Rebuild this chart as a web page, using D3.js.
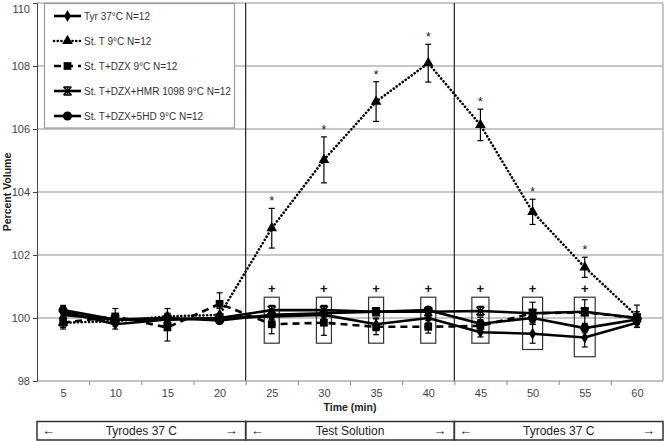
<!DOCTYPE html>
<html><head><meta charset="utf-8">
<script src="https://cdn.jsdelivr.net/npm/d3@7"></script>
<style>body{margin:0;background:#fff}svg{display:block;font-family:"Liberation Sans",Arial,sans-serif}</style>
</head><body><svg id="c" width="666" height="441"></svg>
<script>
const times = [5,10,15,20,25,30,35,40,45,50,55,60];
const seriesNames = ["Tyr  37°C  N=12","St. T  9°C  N=12","St. T+DZX  9°C  N=12","St. T+DZX+HMR 1098  9°C  N=12","St. T+DZX+5HD  9°C  N=12"];
const tyr     = [100.2,99.8,99.95,100.0,100.05,100.1,99.8,100.0,99.55,99.5,99.38,99.85];
const stT     = [99.85,99.9,100.05,100.1,102.85,105.02,106.87,108.09,106.13,103.37,101.61,100.06];
const dzx     = [99.85,100.05,99.7,100.45,99.8,99.85,99.72,99.72,99.75,100.15,100.18,100.0];
const hmr     = [100.1,99.95,99.95,100.0,100.25,100.25,100.2,100.2,100.22,100.15,100.2,100.0];
const hd5     = [100.25,99.95,100.0,99.92,100.1,100.15,100.2,100.25,99.82,100.0,99.68,99.95];
const tyrErr  = [0.15,0.15,0.15,0.1,0.15,0.2,0.2,0.15,0.15,0.3,0.3,0.15];
const stTErr  = [0.15,0.15,0.25,0.2,0.63,0.73,0.63,0.6,0.5,0.4,0.32,0.35];
const dzxErr  = [0.2,0.25,0.43,0.35,0.3,0.4,0.25,0.2,0.2,0.35,0.4,0.2];
const hmrErr  = [0.1,0.1,0.1,0.1,0.15,0.15,0.1,0.1,0.15,0.1,0.1,0.1];
const hd5Err  = [0.15,0.15,0.15,0.1,0.15,0.15,0.1,0.1,0.2,0.15,0.15,0.15];
const starTimes = [25,30,35,40,45,50,55];
const boxTimes  = [25,30,35,40,45,50,55];
const boxTop    = [100.66,100.66,100.66,100.66,100.66,100.66,100.66];
const boxBottom = [99.2,99.2,99.2,99.2,99.2,99.0,98.77];
const boxHalf   = [0.72,0.72,0.72,0.72,0.82,0.96,1.0];
const plusValue = 100.92;
const yTicks = [98,100,102,104,106,108,110];
const sections = [{label:"Tyrodes 37 C",start:2.5,end:22.5},{label:"Test Solution",start:22.5,end:42.5},{label:"Tyrodes 37 C",start:42.5,end:62.5}];

const svg = d3.select("#c");
const x = d3.scaleLinear().domain([2.5,62.5]).range([37,663]);
const y = d3.scaleLinear().domain([98,110]).range([381,3]);

// gridlines
svg.append("g").selectAll("line").data(yTicks.filter(v=>v>98)).join("line")
  .attr("x1",x(2.5)).attr("x2",x(62.5)).attr("y1",d=>y(d)).attr("y2",d=>y(d))
  .attr("stroke","#b4b4b4").attr("stroke-width",1.5);
svg.append("line").attr("x1",x(62.5)).attr("x2",x(62.5)).attr("y1",y(110)).attr("y2",y(98)).attr("stroke","#b4b4b4").attr("stroke-width",1.5);
// section dividers
svg.append("g").selectAll("line").data([22.5,42.5]).join("line")
  .attr("x1",d=>x(d)).attr("x2",d=>x(d)).attr("y1",y(110)).attr("y2",y(98))
  .attr("stroke","#222").attr("stroke-width",1.2);

// y axis
const ya = svg.append("g").attr("transform",`translate(${x(2.5)},0)`)
  .call(d3.axisLeft(y).tickValues(yTicks).tickSize(4).tickPadding(3).tickFormat(d3.format("d")));
ya.select(".domain").attr("stroke","#444");
ya.selectAll(".tick line").attr("stroke","#444");
ya.selectAll("text").attr("font-size",11).attr("fill","#444").attr("font-family","Liberation Sans, Arial");
ya.selectAll(".tick").filter(d=>d===110).select("text").attr("dy","0.9em");
// x axis
const xa = svg.append("g").attr("transform",`translate(0,${y(98)})`)
  .call(d3.axisBottom(x).tickValues(d3.range(7.5,62.5,5)).tickSize(4).tickFormat(""));
xa.select(".domain").attr("stroke","#888").attr("d",`M${x(2.5)},0H${x(62.5)}`);
xa.selectAll(".tick line").attr("stroke","#888");
const xl = svg.append("g").attr("transform",`translate(0,${y(98)})`)
  .call(d3.axisBottom(x).tickValues(times).tickSize(0).tickPadding(8).tickFormat(d3.format("d")));
xl.select(".domain").remove();
xl.selectAll("text").attr("font-size",11).attr("fill","#444").attr("font-family","Liberation Sans, Arial");

svg.append("text").attr("x",(x(2.5)+x(62.5))/2).attr("y",411).attr("text-anchor","middle")
  .attr("font-size",10.5).attr("font-weight","bold").attr("fill","#222").text("Time (min)");
svg.append("text").attr("transform",`translate(11,${(y(98)+y(110))/2}) rotate(-90)`).attr("text-anchor","middle")
  .attr("font-size",10.5).attr("font-weight","bold").attr("fill","#222").text("Percent Volume");

// sections row
const sg = svg.append("g").selectAll("g").data(sections).join("g");
sg.append("rect").attr("x",d=>x(d.start)).attr("y",421.5).attr("width",d=>x(d.end)-x(d.start)).attr("height",18.5)
  .attr("fill","none").attr("stroke","#333").attr("stroke-width",1.5);
sg.append("text").attr("x",d=>(x(d.start)+x(d.end))/2).attr("y",435).attr("text-anchor","middle").attr("font-size",12).attr("fill","#222").text(d=>d.label);
sg.append("text").attr("x",d=>x(d.start)+5).attr("y",435).attr("font-size",13).attr("fill","#222").text("←");
sg.append("text").attr("x",d=>x(d.end)-8).attr("y",435).attr("text-anchor","end").attr("font-size",13).attr("fill","#222").text("→");

// boxes and plus
svg.append("g").selectAll("rect").data(boxTimes).join("rect")
  .attr("x",(d,i)=>x(d-boxHalf[i])).attr("width",(d,i)=>x(d+boxHalf[i])-x(d-boxHalf[i]))
  .attr("y",(d,i)=>y(boxTop[i])).attr("height",(d,i)=>y(boxBottom[i])-y(boxTop[i]))
  .attr("fill","none").attr("stroke","#333").attr("stroke-width",1.2);
svg.append("g").selectAll("text").data(boxTimes).join("text")
  .attr("x",d=>x(d)).attr("y",y(plusValue)+4).attr("text-anchor","middle").attr("font-size",13).attr("font-weight","bold").attr("fill","#111").text("+");

// series
const starPath = (s)=>`M${-s},${-s}L${s},${s}M${-s},${s}L${s},${-s}M0,${-s}L0,${s}M${-s},${-s}L${s},${-s}M${-s},${s}L${s},${s}`;
const DOT = "0.1,3.6";
const series = [
  {name:seriesNames[0],v:tyr,e:tyrErr,dash:null,sym:d3.symbolDiamond,size:40},
  {name:seriesNames[1],v:stT,e:stTErr,dash:DOT,sym:d3.symbolTriangle,size:50},
  {name:seriesNames[2],v:dzx,e:dzxErr,dash:"7,5",sym:d3.symbolSquare,size:60},
  {name:seriesNames[3],v:hmr,e:hmrErr,dash:null,sym:"star",size:4},
  {name:seriesNames[4],v:hd5,e:hd5Err,dash:null,sym:d3.symbolCircle,size:65}
];
const line = d3.line().x((d,i)=>x(times[i])).y(d=>y(d));
function marker(g,s){
  if(s.sym==="star") return g.append("path").attr("d",starPath(s.size)).attr("stroke","#000").attr("stroke-width",1.5).attr("fill","none");
  return g.append("path").attr("d",d3.symbol(s.sym,s.size)()).attr("fill","#000");
}
function styleLine(p,s){
  p.attr("fill","none").attr("stroke","#000")
   .attr("stroke-width",s.dash===DOT?2.6:2.6).attr("stroke-dasharray",s.dash).attr("stroke-linecap",s.dash===DOT?"round":"butt");
}
series.forEach(s=>{
  const g = svg.append("g");
  const eb = g.selectAll("g.eb").data(s.v).join("g");
  eb.append("line").attr("x1",(d,i)=>x(times[i])).attr("x2",(d,i)=>x(times[i])).attr("y1",(d,i)=>y(d+s.e[i])).attr("y2",(d,i)=>y(d-s.e[i])).attr("stroke","#000").attr("stroke-width",1.2);
  [1,-1].forEach(k=>eb.append("line").attr("x1",(d,i)=>x(times[i])-3).attr("x2",(d,i)=>x(times[i])+3).attr("y1",(d,i)=>y(d+k*s.e[i])).attr("y2",(d,i)=>y(d+k*s.e[i])).attr("stroke","#000").attr("stroke-width",1.2));
  styleLine(g.append("path").datum(s.v).attr("d",line),s);
  s.v.forEach((d,i)=>{ const m = svg.append("g").attr("transform",`translate(${x(times[i])},${y(d)})`); marker(m,s); });
});
// asterisks
svg.append("g").selectAll("text").data(starTimes).join("text")
  .attr("x",d=>x(d)).attr("y",d=>{const i=times.indexOf(d);return y(stT[i]+stTErr[i])-3;})
  .attr("text-anchor","middle").attr("font-size",12).attr("fill","#111").text("*");

// legend
const lg = svg.append("g");
lg.append("rect").attr("x",44.5).attr("y",3.5).attr("width",190).attr("height",124.5).attr("fill","#fff").attr("stroke","#999").attr("stroke-width",1.2);
series.forEach((s,k)=>{
  const ly = 16 + k*25;
  styleLine(lg.append("line").attr("x1",54).attr("x2",81).attr("y1",ly).attr("y2",ly),s);
  const m = lg.append("g").attr("transform",`translate(67.5,${ly})`); marker(m,s);
  lg.append("text").attr("x",84).attr("y",ly+3.5).attr("font-size",10).attr("fill","#333")
    .text(s.name.replace(/  /g," "));
});
</script></body></html>
